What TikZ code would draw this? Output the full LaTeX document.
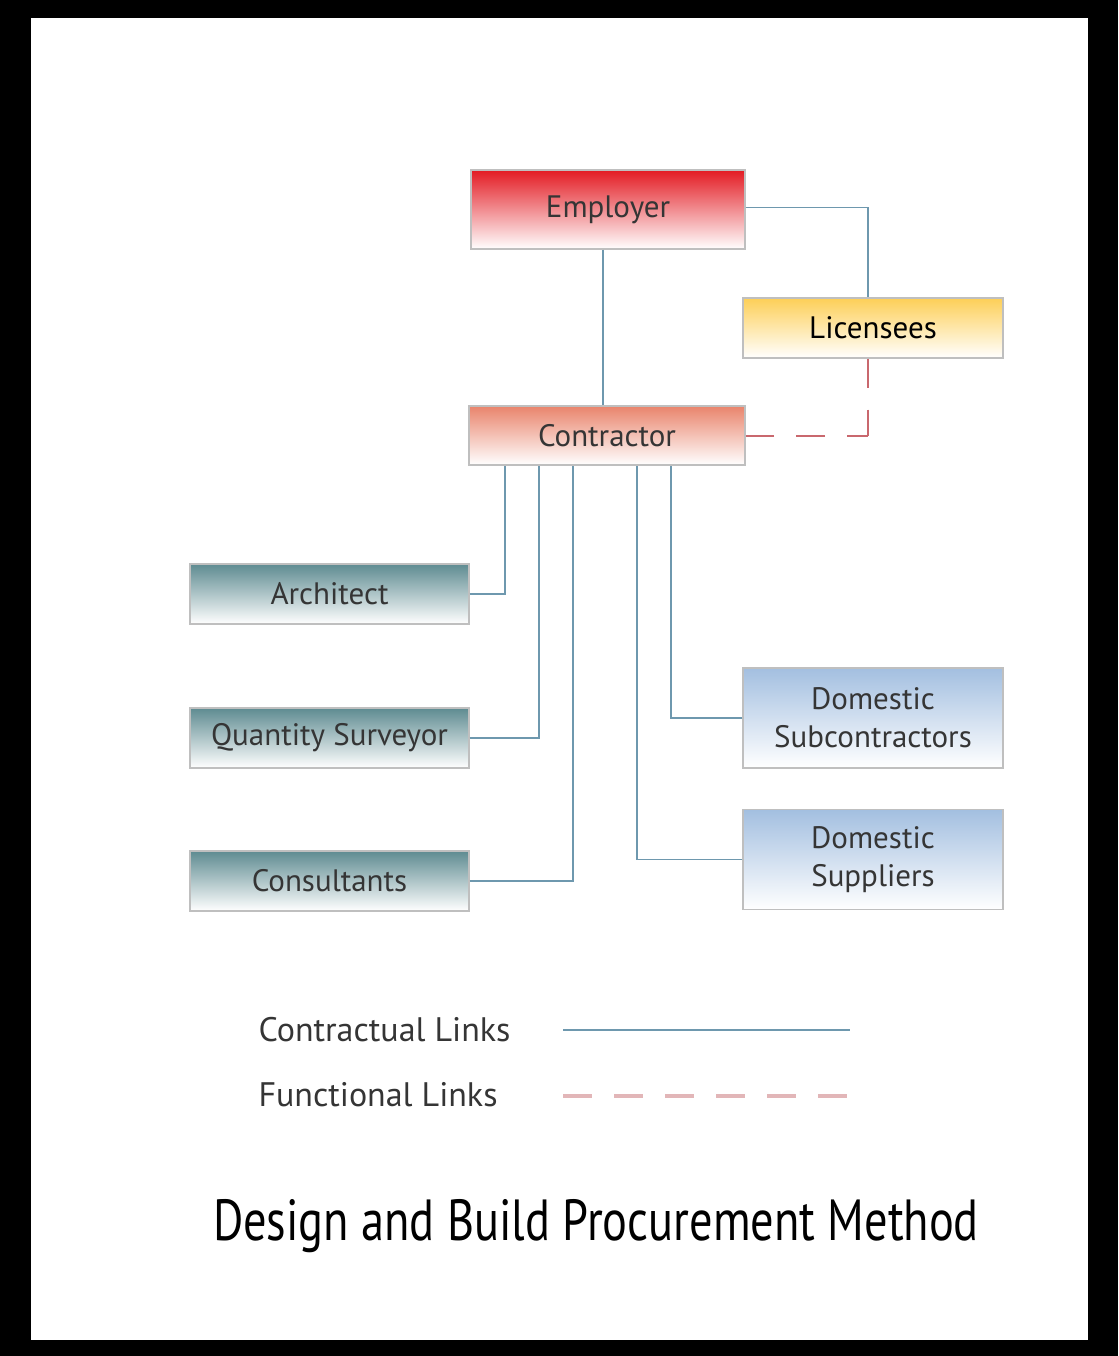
\documentclass[tikz,border=0pt]{standalone}
\usepackage{fontspec}
\setmainfont{PT Sans}
\newfontfamily\titlefont[FakeStretch=0.8]{PT Sans}
\definecolor{linkblue}{HTML}{6E98AE}
\definecolor{linkred}{HTML}{C9686E}
\definecolor{linkpink}{HTML}{E2B6B8}
\definecolor{txtgray}{HTML}{353535}
\definecolor{empred}{HTML}{E31B23}
\definecolor{licgold}{HTML}{FDCF57}
\definecolor{consalmon}{HTML}{E9846C}
\definecolor{advteal}{HTML}{5E8B91}
\definecolor{supblue}{HTML}{A3BFE0}
\tikzset{
	box/.style={draw=gray!50, line width=1.2pt, inner sep=0pt, text=txtgray, align=center, font=\fontsize{31}{38}\selectfont, bottom color=white},
	leftbox/.style={box, top color=advteal, minimum width=279pt, minimum height=60pt},
	rightbox/.style={box, top color=supblue, minimum width=260pt, minimum height=100pt},
	conlink/.style={draw=linkblue, line width=1.3pt},
	funclink/.style={draw=linkred, line width=2pt, dash pattern=on 29pt off 22pt},
	legend/.style={anchor=west, text=txtgray, font=\fontsize{34}{40}\selectfont}
}
\begin{document}
\begin{tikzpicture}[x=1pt, y=-1pt]
		\fill[black] (0,0) rectangle (1118,1356);
		\fill[white] (31,18) rectangle (1088,1340);
		% parties
		\node[box, top color=empred, minimum width=274pt, minimum height=79pt] (employer) at (608,209.5) {Employer};
		\node[box, top color=licgold, minimum width=260pt, minimum height=60pt, text=black] (licensees) at (873,328) {Licensees};
		\node[box, top color=consalmon, minimum width=276pt, minimum height=59pt] (contractor) at (607,435.5) {Contractor};
		\node[leftbox] (architect) at (329.5,594) {Architect};
		\node[leftbox] (surveyor) at (329.5,738) {Quantity Surveyor};
		\node[leftbox] (consultants) at (329.5,881) {Consultants};
		\node[rightbox] (subcontractors) at (873,718) {Domestic\\Subcontractors};
		\node[rightbox] (suppliers) at (873,859.5) {Domestic\\Suppliers};
		% links
		\draw[conlink] ([xshift=-5pt]employer.south) -- ([xshift=-5pt]employer.south |- contractor.north);
		\draw[conlink] ([yshift=2pt]employer.east) -| ([xshift=-5pt]licensees.north);
		\coordinate (knee) at ([xshift=-5pt]licensees.south |- contractor.east);
		\draw[funclink] ([xshift=-5pt]licensees.south) -- (knee);
		\draw[funclink, dash phase=8pt] (knee) -- (contractor.east);
		\draw[conlink] (architect.east) -| ([xshift=-102pt]contractor.south);
		\draw[conlink] (surveyor.east) -| ([xshift=-68pt]contractor.south);
		\draw[conlink] (consultants.east) -| ([xshift=-34pt]contractor.south);
		\draw[conlink] (suppliers.west) -| ([xshift=30pt]contractor.south);
		\draw[conlink] (subcontractors.west) -| ([xshift=64pt]contractor.south);
		% legend
		\node[legend] (contractual) at (255,1030) {Contractual Links};
		\node[legend] (functional) at (255,1095) {Functional Links};
		\coordinate (conA) at (563,1030);
		\coordinate (conB) at (850,1030);
		\coordinate (funA) at (563,1096);
		\coordinate (funB) at (852,1096);
		\draw[conlink] (conA) -- (conB);
		\draw[funclink, draw=linkpink, line width=4pt] (funA) -- (funB);
		\node[font=\titlefont\fontsize{58}{62}\selectfont] (title) at (596,1226) {Design and Build Procurement Method};
\end{tikzpicture}
\end{document}
